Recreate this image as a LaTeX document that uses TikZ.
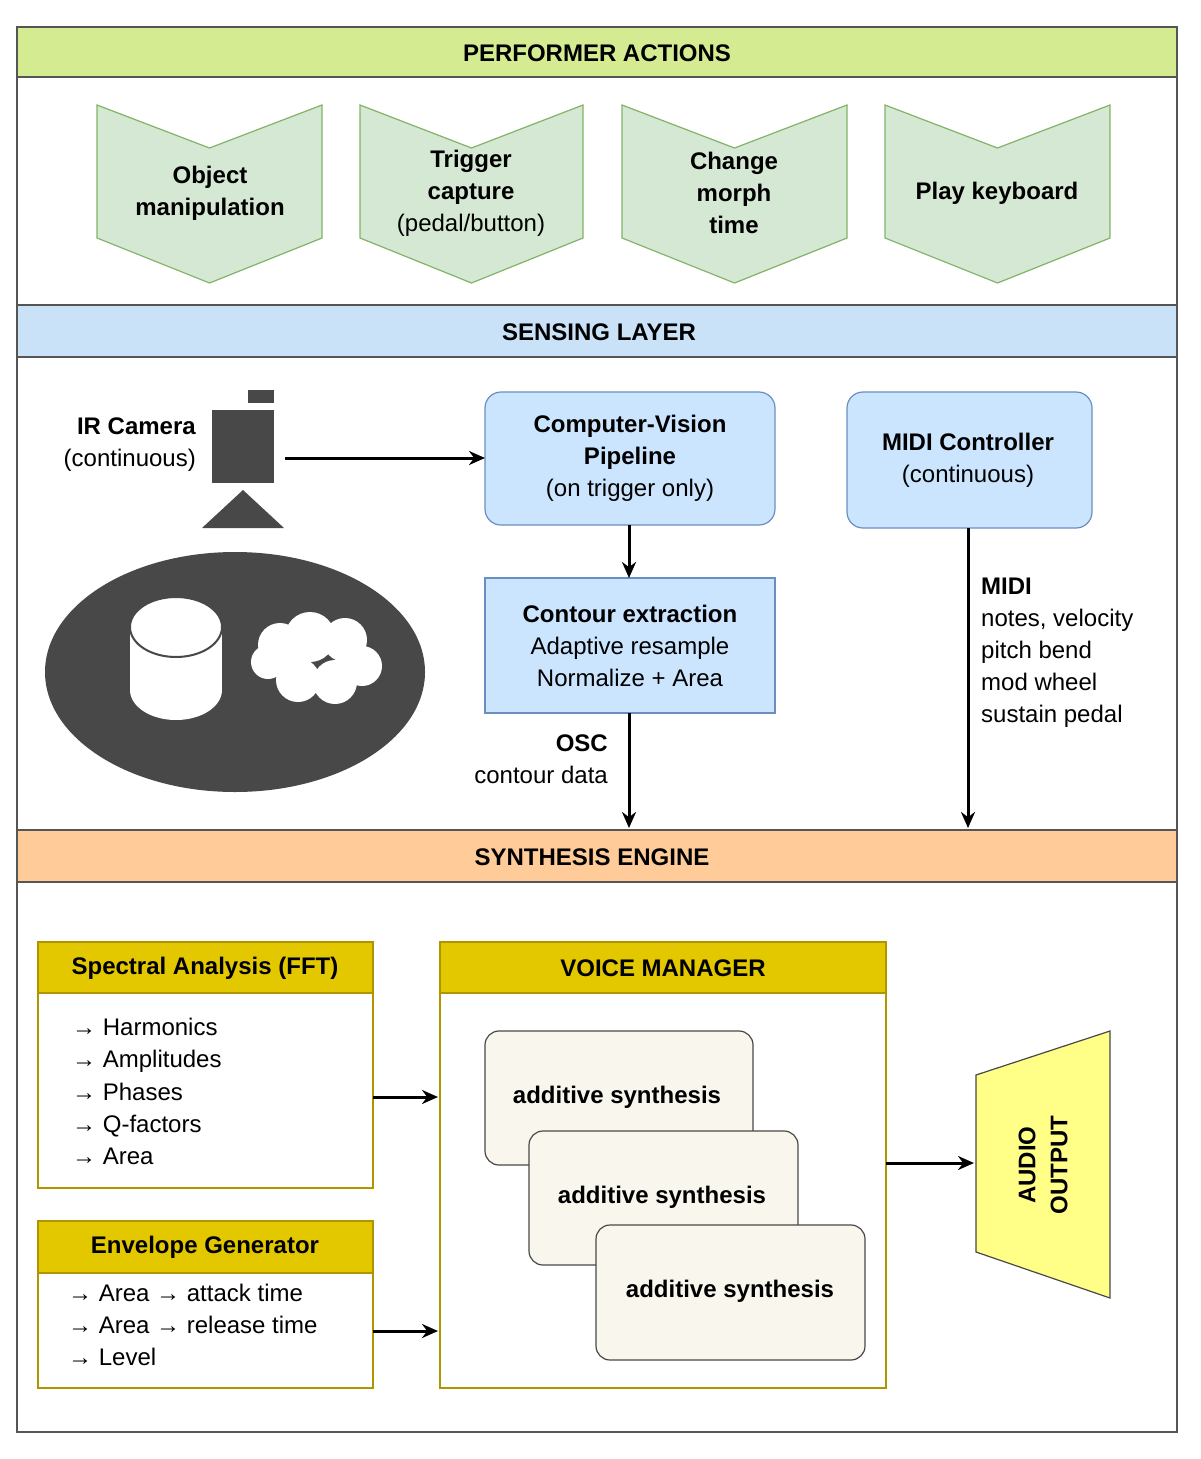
\documentclass[tikz,border=0pt]{standalone}
\usepackage{fontspec}
\setmainfont{Liberation Sans}
\usetikzlibrary{arrows.meta}
\definecolor{gframe}{HTML}{555555}
\definecolor{hgreen}{HTML}{D5EB91}
\definecolor{chevfill}{HTML}{D5E8D4}
\definecolor{chevline}{HTML}{82B366}
\definecolor{hblue}{HTML}{C9E2F8}
\definecolor{bfill}{HTML}{CCE5FF}
\definecolor{bline}{HTML}{6C8EBF}
\definecolor{horange}{HTML}{FFCC99}
\definecolor{yhead}{HTML}{E3C800}
\definecolor{yline}{HTML}{B09500}
\definecolor{cream}{HTML}{F9F7ED}
\definecolor{dark}{HTML}{484848}
\definecolor{audio}{HTML}{FFFF88}
\tikzset{
 txt/.style={font=\fontsize{24}{32}\selectfont,align=center,inner sep=0},
 btxt/.style={txt,font=\fontsize{24}{32}\selectfont\bfseries},
 hdr/.style={draw=gframe,line width=1.2,minimum height=52},
 chev/.style={fill=chevfill,draw=chevline,line width=1.2},
 bbox/.style={fill=bfill,draw=bline,line width=1.2},
 ybox/.style={draw=yline,line width=1.2,fill=white},
 yhd/.style={draw=yline,line width=1.2,fill=yhead},
 stackb/.style={fill=cream,draw=dark,line width=1.2,rounded corners=14},
 arr/.style={-{Stealth[length=16,width=14]},line width=3},
}
\begin{document}
\begin{tikzpicture}[x=1pt,y=-1pt]
\useasboundingbox (0,0) rectangle (1200,1459);
\draw[gframe,line width=1.2] (17,27) rectangle (1177,1432);
% headers
\draw[hdr,fill=hgreen] (17,27) rectangle (1177,77);
\node[btxt] (h1) at (597,53) {PERFORMER ACTIONS};
\draw[hdr,fill=hblue] (17,305) rectangle (1177,357);
\node[btxt] (h2) at (599,332) {SENSING LAYER};
\draw[hdr,fill=horange] (17,830) rectangle (1177,882);
\node[btxt] (h3) at (592,857) {SYNTHESIS ENGINE};
% chevrons
\foreach \a/\b in {97/322,360/583,622/847,885/1110}{
 \pgfmathsetmacro\c{(\a+\b)/2}
 \draw[chev] (\a,105) -- (\c,148) -- (\b,105) -- (\b,238) -- (\c,283) -- (\a,238) -- cycle;}
\node[btxt] (c1) at (210,193) {Object\\manipulation};
\node[txt] (c2) at (471,193) {\bfseries Trigger\\\bfseries capture\\(pedal/button)};
\node[btxt] (c3) at (734,193) {Change\\morph\\time};
\node[btxt] (c4) at (997,193) {Play keyboard};
% camera
\fill[dark] (248,390) rectangle (274,403);
\fill[dark] (212,410) rectangle (274,483);
\fill[dark] (202,528) -- (284,528) -- (243,490) -- cycle;
\coordinate (camr) at (285,458);
\node[txt,align=right,anchor=east] (irl) at (196,445) {\bfseries IR Camera\\(continuous)};
% table
\fill[dark] (235,672) ellipse [x radius=190,y radius=120];
\fill[white] (130,627) rectangle (222,690);
\fill[white] (176,690) ellipse [x radius=46,y radius=30];
\draw[dark,line width=2,fill=white] (176,627) ellipse [x radius=46,y radius=30];
\fill[white] (280,645) circle (22) (310,637) circle (25) (345,640) circle (22) (362,666) circle (20)
 (335,682) circle (22) (298,680) circle (22) (268,662) circle (17);
% sensing boxes
\draw[bbox,rounded corners=16] (485,392) rectangle (775,525);
\node[txt] (cv) at (630,458) {\bfseries Computer-Vision\\\bfseries Pipeline\\(on trigger only)};
\draw[bbox,rounded corners=16] (847,392) rectangle (1092,528);
\node[txt] (midi) at (968,460) {\bfseries MIDI Controller\\(continuous)};
\draw[bbox] (485,578) rectangle (775,713);
\node[txt] (ce) at (630,646) {\bfseries Contour extraction\\Adaptive resample\\Normalize + Area};
\coordinate (cvl) at (485,458);
\coordinate (cvb) at (629,525);
\coordinate (cet) at (629,578);
\coordinate (ceb) at (629,713);
\coordinate (s1) at (629,828);
\coordinate (mb) at (968,528);
\coordinate (s2) at (968,828);
\draw[arr] (camr) -- (cvl);
\draw[arr] (cvb) -- (cet);
\draw[arr] (ceb) -- (s1);
\draw[arr] (mb) -- (s2);
\node[txt,align=right,anchor=east] (osc) at (608,759) {\bfseries OSC\\contour data};
\node[txt,align=left,anchor=north west] (ml) at (981,578) {\bfseries MIDI\\notes, velocity\\pitch bend\\mod wheel\\sustain pedal};
% spectral
\draw[ybox] (38,942) rectangle (373,1188);
\draw[yhd] (38,942) rectangle (373,993);
\node[btxt] (sa) at (205,968) {Spectral Analysis (FFT)};
\node[txt,align=left,anchor=north west,font=\fontsize{24}{32.2}\selectfont] (sal) at (72,1018) {→ Harmonics\\→ Amplitudes\\→ Phases\\→ Q-factors\\→ Area};
\draw[ybox] (38,1221) rectangle (373,1388);
\draw[yhd] (38,1221) rectangle (373,1273);
\node[btxt] (eg) at (205,1247) {Envelope Generator};
\node[txt,align=left,anchor=north west] (egl) at (68,1284) {→ Area → attack time\\→ Area → release time\\→ Level};
% voice manager
\draw[ybox] (440,942) rectangle (886,1388);
\draw[yhd] (440,942) rectangle (886,993);
\node[btxt] (vm) at (663,968) {VOICE MANAGER};
\draw[stackb] (485,1031) rectangle (753,1165);
\node[btxt] (a1) at (617,1097) {additive synthesis};
\draw[stackb] (529,1131) rectangle (798,1265);
\node[btxt] (a2) at (662,1197) {additive synthesis};
\draw[stackb] (596,1225) rectangle (865,1360);
\node[btxt] (a3) at (730,1291) {additive synthesis};
% audio
\draw[fill=audio,draw=dark,line width=1.2] (976,1075) -- (1110,1031) -- (1110,1298) -- (976,1252) -- cycle;
\node[btxt,rotate=90] (ao) at (1043,1165) {AUDIO\\OUTPUT};
\coordinate (sar) at (373,1097);
\coordinate (vml1) at (438,1097);
\coordinate (egr) at (373,1331);
\coordinate (vml2) at (438,1331);
\coordinate (vmr) at (886,1163);
\coordinate (aol) at (974,1163);
\draw[arr] (sar) -- (vml1);
\draw[arr] (egr) -- (vml2);
\draw[arr] (vmr) -- (aol);
\end{tikzpicture}
\end{document}
